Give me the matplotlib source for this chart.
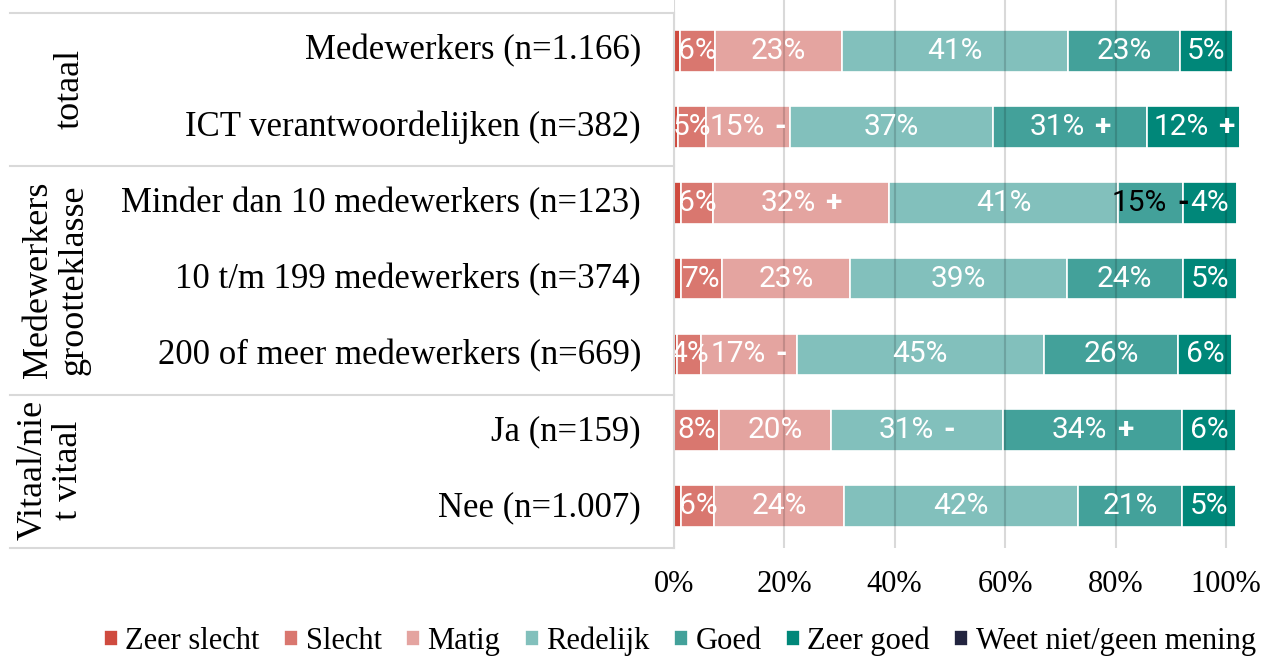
import matplotlib.pyplot as plt
from matplotlib.offsetbox import TextArea, HPacker, AnnotationBbox

# rows, top to bottom
rows = ['Medewerkers (n=1.166)', 'ICT verantwoordelijken (n=382)',
        'Minder dan 10 medewerkers (n=123)', '10 t/m 199 medewerkers (n=374)',
        '200 of meer medewerkers (n=669)', 'Ja (n=159)', 'Nee (n=1.007)']
groups = ['totaal', 'Medewerkers\ngrootteklasse', 'Vitaal/nie\nt vitaal']
group_rows = [(0, 1), (2, 4), (5, 6)]

categories = ['Zeer slecht', 'Slecht', 'Matig', 'Redelijk', 'Goed', 'Zeer goed',
              'Weet niet/geen mening']

# segment widths (%) as drawn in the picture
zeer_slecht = [1.2, 0.85, 1.35, 1.35, 0.63, 0.0, 1.35]
slecht = [6.2, 5.0, 5.8, 7.3, 4.3, 8.15, 6.0]
matig = [23.1, 15.2, 31.8, 23.3, 17.3, 20.3, 23.5]
redelijk = [40.9, 36.7, 41.5, 39.2, 44.8, 31.1, 42.3]
goed = [20.2, 28.0, 11.7, 21.0, 24.3, 32.5, 18.9]
zeer_goed = [9.7, 16.8, 9.8, 9.8, 9.8, 9.7, 9.7]
weet_niet = [0, 0, 0, 0, 0, 0, 0]

# data labels shown in the segments
lab_zeer_slecht = ['', '', '', '', '', '', '']
lab_slecht = ['6%', '5%', '6%', '7%', '4%', '8%', '6%']
lab_matig = ['23%', '15% -', '32% +', '23%', '17% -', '20%', '24%']
lab_redelijk = ['41%', '37%', '41%', '39%', '45%', '31% -', '42%']
lab_goed = ['23%', '31% +', '15% -', '24%', '26%', '34% +', '21%']
lab_zeer_goed = ['5%', '12% +', '4%', '5%', '6%', '6%', '5%']
lab_weet_niet = ['', '', '', '', '', '', '']

ticks = [0, 20, 40, 60, 80, 100]

series = [zeer_slecht, slecht, matig, redelijk, goed, zeer_goed, weet_niet]
labels = [lab_zeer_slecht, lab_slecht, lab_matig, lab_redelijk, lab_goed,
          lab_zeer_goed, lab_weet_niet]
colors = ['#cf4b3f', '#d9776f', '#e4a4a0', '#82c0bc', '#43a19a', '#008779', '#22243f']
dark_labels = {(2, 4)}

W, H = 1266, 659
fig = plt.figure(figsize=(W / 100, H / 100), dpi=100)

def fx(px):
    return px / W

def fy(py):
    return 1 - py / H

ax_left, ax_right, ax_top, ax_bot = 673.8, 1250, 0, 548
ax = fig.add_axes([fx(ax_left), fy(ax_bot), fx(ax_right - ax_left), (ax_bot - ax_top) / H])
unit = (1226 - ax_left) / 100.0
ax.set_xlim(0, (ax_right - ax_left) / unit)
ax.set_ylim(6.55, -0.67)

serif = 'Liberation Serif'
lab_size = 21.5


def bar_label(x, y, lab, color):
    # number in regular weight, significance sign (+/-) in bold
    parts = lab.split(' ')
    props = dict(color=color, fontsize=lab_size, family='Roboto')
    kids = [TextArea(parts[0], textprops=props)]
    if len(parts) > 1:
        kids.append(TextArea(parts[1], textprops=dict(props, fontweight='bold')))
    box = HPacker(children=kids, align='baseline', pad=0, sep=7)
    ab = AnnotationBbox(box, (x, y), frameon=False, box_alignment=(0.5, 0.5),
                        pad=0, zorder=4, annotation_clip=False)
    ax.add_artist(ab)


y = list(range(len(rows)))
left = [0.0] * len(rows)
for k, (vals, labs, col, name) in enumerate(zip(series, labels, colors, categories)):
    ax.barh(y, vals, left=left, height=0.55, color=col, edgecolor='white',
            linewidth=1.2, label=name, zorder=2)
    for i, (v, lab) in enumerate(zip(vals, labs)):
        if lab:
            c = 'black' if (i, k) in dark_labels else 'white'
            bar_label(left[i] + v / 2, i, lab, c)
    left = [a + b for a, b in zip(left, vals)]

for t in ticks:
    ax.axvline(t, color='black', alpha=0.15, linewidth=1.5, zorder=3)

ax.set_xticks(ticks)
ax.set_xticklabels([f'{t}%' for t in ticks], family=serif, fontsize=22)
ax.tick_params(axis='x', length=0, pad=16)
ax.set_yticks([])
for s in ax.spines.values():
    s.set_visible(False)

# row labels
for i, r in enumerate(rows):
    fig.text(fx(641), fy(51 + 76.2 * i), r, ha='right', va='center',
             family=serif, fontsize=25)

# group labels
gx = [70, 56, 51]
for g, (a, b), x in zip(groups, group_rows, gx):
    yc = 51 + 76.2 * (a + b) / 2
    fig.text(fx(x), fy(yc), g, rotation=90, ha='center', va='center',
             family=serif, fontsize=26, linespacing=1.1, multialignment='center')

# table lines
for yy in [13, 166, 395, 548]:
    fig.add_artist(plt.Line2D([fx(10), fx(673.8)], [fy(yy), fy(yy)],
                              color='#d9d9d9', linewidth=1.5))
fig.add_artist(plt.Line2D([fx(673.8), fx(673.8)], [fy(13), fy(548)],
                          color='#d9d9d9', linewidth=1.5))

handles, names = ax.get_legend_handles_labels()
fig.legend(handles, names, loc='center', bbox_to_anchor=(fx(680), fy(641)), ncol=7,
           frameon=False, prop={'family': serif, 'size': 22}, handlelength=0.45,
           handleheight=0.45, handletextpad=0.25, columnspacing=0.8, borderaxespad=0)

fig.savefig('out.png', dpi=100)
